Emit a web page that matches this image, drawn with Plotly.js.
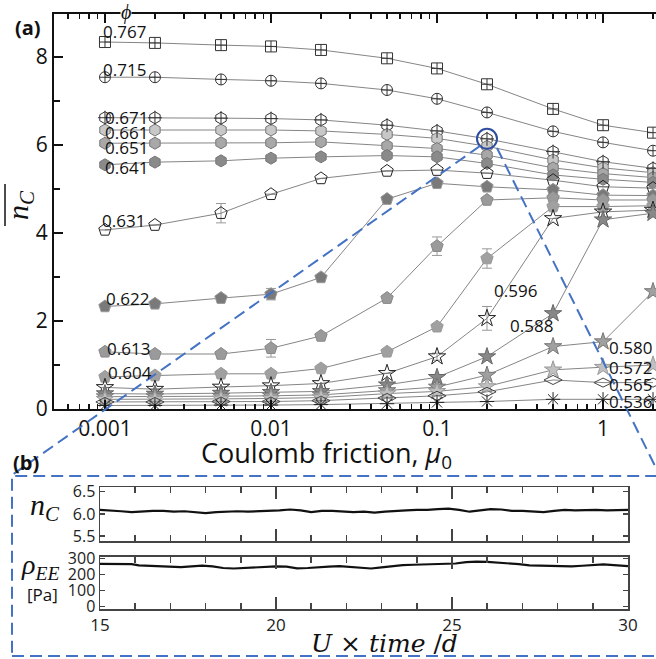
<!DOCTYPE html>
<html><head><meta charset="utf-8">
<script src="https://cdn.plot.ly/plotly-3.0.1.min.js"></script>
<style>html,body{margin:0;padding:0;overflow:hidden;background:#fff}#c{width:656px;height:659px}</style>
</head><body><div id="c"></div><script>
// ---------- data (panel a) ----------
const mu = [0.001, 0.002, 0.005, 0.01, 0.02, 0.05, 0.1, 0.2, 0.5, 1, 2];
const phiLabels = ['0.767','0.715','0.671','0.661','0.651','0.641','0.631','0.622','0.613','0.604','0.596','0.588','0.580','0.572','0.565','0.536'];
const n767 = [8.34, 8.32, 8.27, 8.24, 8.16, 7.97, 7.74, 7.38, 6.82, 6.45, 6.28];
const n715 = [7.54, 7.54, 7.49, 7.46, 7.40, 7.25, 7.05, 6.74, 6.31, 6.06, 5.87];
const n671 = [6.62, 6.62, 6.61, 6.60, 6.57, 6.45, 6.32, 6.14, 5.85, 5.62, 5.47];
const n661 = [6.34, 6.34, 6.34, 6.34, 6.32, 6.24, 6.15, 5.97, 5.66, 5.48, 5.37];
const n651 = [6.04, 6.04, 6.05, 6.05, 6.07, 5.98, 5.92, 5.77, 5.48, 5.35, 5.26];
const n641 = [5.55, 5.61, 5.64, 5.70, 5.73, 5.76, 5.73, 5.58, 5.32, 5.22, 5.15];
const n631 = [4.07, 4.18, 4.45, 4.88, 5.24, 5.41, 5.43, 5.36, 5.20, 5.05, 5.02];
const n622 = [2.33, 2.39, 2.52, 2.61, 2.99, 4.77, 5.13, 5.05, 4.98, 4.86, 4.85];
const n613 = [1.30, 1.25, 1.25, 1.38, 1.66, 2.52, 3.70, 4.75, 4.80, 4.75, 4.75];
const n604 = [0.73, 0.76, 0.80, 0.80, 0.92, 1.30, 1.87, 3.42, 4.60, 4.60, 4.62];
const n596 = [0.49, 0.45, 0.50, 0.53, 0.58, 0.81, 1.19, 2.06, 4.33, 4.48, 4.52];
const n588 = [0.35, 0.34, 0.36, 0.38, 0.40, 0.55, 0.72, 1.19, 2.17, 4.30, 4.45];
const n580 = [0.28, 0.28, 0.29, 0.30, 0.32, 0.42, 0.50, 0.77, 1.42, 1.53, 2.67];
const n572 = [0.22, 0.22, 0.23, 0.24, 0.26, 0.35, 0.40, 0.51, 0.89, 0.95, 1.00];
const n565 = [0.16, 0.16, 0.17, 0.17, 0.19, 0.25, 0.30, 0.39, 0.66, 0.60, 0.60];
const n536 = [0.08, 0.08, 0.09, 0.09, 0.10, 0.12, 0.15, 0.17, 0.22, 0.22, 0.22];
// error bars (symmetric)
const e631 = [0, 0, 0.22, 0, 0, 0, 0, 0, 0, 0, 0];
const e622 = [0, 0.05, 0, 0.13, 0, 0, 0, 0, 0, 0, 0];
const e613 = [0, 0, 0, 0.20, 0, 0, 0.21, 0, 0, 0, 0];
const e604 = [0, 0, 0, 0, 0, 0, 0, 0.22, 0, 0, 0];
const e596 = [0, 0, 0, 0, 0, 0, 0.08, 0.27, 0, 0, 0];
// highlighted point
const hiMu = [0.2];
const hiN = [n671[7]];

// ---------- data (panel b) ----------
const tNc = [15.0,15.3,15.6,15.9,16.2,16.5,16.8,17.1,17.4,17.7,18.0,18.3,18.6,18.9,19.2,19.5,19.8,20.1,20.4,20.7,21.0,21.3,21.6,21.9,22.2,22.5,22.8,23.1,23.4,23.7,24.0,24.3,24.6,24.9,25.2,25.5,25.8,26.1,26.4,26.7,27.0,27.3,27.6,27.9,28.2,28.5,28.8,29.1,29.4,29.7,30.0];
const nC = [6.09,6.08,6.06,6.04,6.06,6.07,6.07,6.05,6.06,6.04,6.02,6.04,6.05,6.06,6.05,6.06,6.06,6.08,6.10,6.08,6.04,6.07,6.07,6.05,6.04,6.05,6.03,6.05,6.07,6.08,6.09,6.09,6.11,6.12,6.09,6.05,6.08,6.11,6.10,6.07,6.07,6.05,6.04,6.07,6.09,6.08,6.09,6.09,6.08,6.09,6.09];
const tRho = [15.0,15.3,15.6,15.9,16.1,16.4,16.7,17.0,17.3,17.6,17.9,18.2,18.5,18.8,19.1,19.4,19.7,20.0,20.3,20.6,20.9,21.2,21.5,21.8,22.1,22.4,22.7,23.0,23.3,23.6,23.9,24.2,24.5,24.8,25.1,25.4,25.7,26.0,26.3,26.6,26.9,27.2,27.5,27.8,28.1,28.4,28.7,29.0,29.3,29.6,30.0];
const rhoEE = [265,266,266,264,256,254,252,250,246,250,255,250,240,237,240,244,248,250,248,238,240,246,248,251,246,240,237,244,252,258,260,262,264,266,268,276,280,278,274,272,264,256,254,250,248,250,254,258,262,258,252];

// ---------- helpers ----------
const W = 656, H = 659;
const px = x => x / W;
const py = y => 1 - y / H;
const SANS = 'Open Sans, Noto Sans, sans-serif';
const SERIF = 'Liberation Serif, DejaVu Serif, serif';

const seriesY = [n767,n715,n671,n661,n651,n641,n631,n622,n613,n604,n596,n588,n580,n572,n565,n536];
const seriesErr = [null,null,null,null,null,null,e631,e622,e613,e604,e596,null,null,null,null,null];
const styles = [
  {sym:'square-cross-open', fill:'#333', line:'#333', size:11},
  {sym:'circle-cross-open', fill:'#333', line:'#333', size:11},
  {sym:'hexagon-open', fill:'#333', line:'#333', size:12},
  {sym:'hexagon', fill:'#c8c8c8', line:'#777', size:12},
  {sym:'hexagon', fill:'#a8a8a8', line:'#777', size:12},
  {sym:'hexagon', fill:'#8a8a8a', line:'#777', size:12},
  {sym:'pentagon-open', fill:'#222', line:'#222', size:13},
  {sym:'pentagon', fill:'#7a7a7a', line:'#999', size:13},
  {sym:'pentagon', fill:'#9a9a9a', line:'#888', size:13},
  {sym:'pentagon', fill:'#a0a0a0', line:'#999', size:13},
  {sym:'star-open', fill:'#222', line:'#222', size:13},
  {sym:'star', fill:'#888', line:'#666', size:13},
  {sym:'star', fill:'#a0a0a0', line:'#777', size:13},
  {sym:'star', fill:'#c0c0c0', line:'#999', size:13},
  {sym:'diamond-wide-open', fill:'#444', line:'#444', size:13},
  {sym:'asterisk-open', fill:'#222', line:'#222', size:12}
];
const labelPos = [[124,32],[124,69],[126,117],[126,132],[126,148],[126,168],[123,220],[127,299],[128,348],[130,372],[515,291],[531,325],[630,347],[630,367],[630,384],[630,401]];

const traces = [];
seriesY.forEach((ys, i) => {
  const s = styles[i];
  const tr = {
    x: mu, y: ys, type: 'scatter', mode: 'lines+markers', xaxis: 'x', yaxis: 'y',
    line: {color: '#666', width: 0.8},
    marker: {symbol: s.sym, size: s.size, color: s.fill, line: {color: s.line, width: 1}},
    showlegend: false, cliponaxis: true, hoverinfo: 'skip'
  };
  if (seriesErr[i]) tr.error_y = {type: 'data', array: seriesErr[i], visible: true, color: '#999', thickness: 1, width: 5};
  traces.push(tr);
});
// cross inside the 0.671 hexagons
traces.push({x: mu, y: n671, type: 'scatter', mode: 'markers', xaxis: 'x', yaxis: 'y',
  marker: {symbol: 'cross-thin-open', size: 10, color: '#333', line: {color: '#333', width: 1}}, showlegend: false});
traces.push({x: hiMu, y: hiN, type: 'scatter', mode: 'markers', xaxis: 'x', yaxis: 'y',
  marker: {symbol: 'circle-open', size: 20, color: '#2F4EA0', line: {color: '#2F4EA0', width: 2}}, showlegend: false});
traces.push({x: tNc, y: nC, type: 'scatter', mode: 'lines', xaxis: 'x2', yaxis: 'y2', line: {color: '#111', width: 2.2}, showlegend: false});
traces.push({x: tRho, y: rhoEE, type: 'scatter', mode: 'lines', xaxis: 'x3', yaxis: 'y3', line: {color: '#111', width: 2.2}, showlegend: false});

const minorLog = [];
[0.0001, 0.001, 0.01, 0.1, 1].forEach(d => { for (let k = 2; k <= 9; k++) minorLog.push(+(k * d).toPrecision(3)); });

const ann = [];
phiLabels.forEach((t, i) => ann.push({text: t, xref: 'paper', yref: 'paper', x: px(labelPos[i][0]), y: py(labelPos[i][1]),
  xanchor: 'center', yanchor: 'middle', showarrow: false, font: {family: SANS, size: 17, color: '#111'}}));
ann.push({text: '<i>ϕ</i>', xref: 'paper', yref: 'paper', x: px(126), y: py(13), xanchor: 'center', yanchor: 'middle', showarrow: false,
  bgcolor: '#fff', borderpad: 0, font: {family: SERIF, size: 20, color: '#111'}});
ann.push({text: '<b>(a)</b>', xref: 'paper', yref: 'paper', x: px(28), y: py(28), xanchor: 'center', yanchor: 'middle', showarrow: false, font: {family: SANS, size: 20, color: '#111'}});
ann.push({text: '<b>(b)</b>', xref: 'paper', yref: 'paper', x: px(26), y: py(462), xanchor: 'center', yanchor: 'middle', showarrow: false, font: {family: SANS, size: 20, color: '#111'}});
ann.push({text: 'Coulomb friction, <i>μ</i><sub>0</sub>', xref: 'paper', yref: 'paper', x: px(326), y: py(454), xanchor: 'center', yanchor: 'middle', showarrow: false, font: {family: SANS, size: 27, color: '#111'}});
ann.push({text: '<i>n</i><sub><i>C</i></sub>', xref: 'paper', yref: 'paper', x: px(20), y: py(205), xanchor: 'center', yanchor: 'middle', textangle: -90, showarrow: false, font: {family: SERIF, size: 30, color: '#111'}});
ann.push({text: '<i>n</i><sub><i>C</i></sub>', xref: 'paper', yref: 'paper', x: px(45), y: py(507), xanchor: 'center', yanchor: 'middle', showarrow: false, font: {family: SERIF, size: 30, color: '#111'}});
ann.push({text: '<i>ρ</i><sub><i>EE</i></sub>', xref: 'paper', yref: 'paper', x: px(40), y: py(566), xanchor: 'center', yanchor: 'middle', showarrow: false, font: {family: SERIF, size: 28, color: '#111'}});
ann.push({text: '[Pa]', xref: 'paper', yref: 'paper', x: px(42), y: py(594), xanchor: 'center', yanchor: 'middle', showarrow: false, font: {family: SANS, size: 17, color: '#111'}});
ann.push({text: '<i>U</i> × <i>time</i> /<i>d</i>', xref: 'paper', yref: 'paper', x: px(384), y: py(643), xanchor: 'center', yanchor: 'middle', showarrow: false, font: {family: 'DejaVu Serif, serif', size: 25, color: '#111'}});

const BLUE = '#4472C4';
const shapes = [
  {type: 'line', xref: 'paper', yref: 'paper', x0: px(5), x1: px(5), y0: py(184), y1: py(226), line: {color: '#111', width: 1.5}},
  {type: 'rect', xref: 'paper', yref: 'paper', x0: px(12), x1: 1.1, y0: py(656), y1: py(476), line: {color: BLUE, width: 2, dash: '12px,6px'}},
  {type: 'line', xref: 'paper', yref: 'paper', x0: px(480), y0: py(146), x1: px(12), y1: py(475), line: {color: BLUE, width: 2, dash: '12px,6px'}},
  {type: 'line', xref: 'paper', yref: 'paper', x0: px(497), y0: py(148), x1: px(660), y1: py(476), line: {color: BLUE, width: 2, dash: '12px,6px'}}
];

const axB = {showgrid: false, zeroline: false, showline: true, linecolor: '#444', linewidth: 1.5, mirror: 'ticks', ticks: 'inside'};
const layout = {
  width: W, height: H, margin: {l: 0, r: 0, t: 0, b: 0}, paper_bgcolor: '#fff', plot_bgcolor: 'rgba(0,0,0,0)',
  showlegend: false,
  xaxis: {type: 'log', domain: [px(54), 1], range: [-3.307, 0.319], anchor: 'y',
    showgrid: false, zeroline: false, showline: true, linecolor: '#111', linewidth: 2, mirror: 'ticks',
    ticks: 'inside', ticklen: 9, tickwidth: 1.5, tickcolor: '#111',
    tickmode: 'array', tickvals: [0.001, 0.01, 0.1, 1], ticktext: ['0.001', '0.01', '0.1', '1'],
    tickfont: {family: SANS, size: 21, color: '#111'},
    minor: {tickmode: 'array', tickvals: minorLog, ticks: 'inside', ticklen: 5, tickwidth: 1.5, tickcolor: '#111'}},
  yaxis: {domain: [py(409), py(14)], range: [0, 8.977], anchor: 'x',
    showgrid: false, zeroline: false, showline: true, linecolor: '#111', linewidth: 2, mirror: false,
    ticks: 'inside', ticklen: 9, tickwidth: 1.5, tickcolor: '#111',
    tickmode: 'array', tickvals: [0, 2, 4, 6, 8], tickfont: {family: SANS, size: 21, color: '#111'},
    minor: {tickmode: 'array', tickvals: [1, 3, 5, 7], ticks: 'inside', ticklen: 6, tickwidth: 1.5, tickcolor: '#111'}},
  xaxis2: Object.assign({}, axB, {domain: [px(100), px(628)], range: [15, 30], anchor: 'y2', showticklabels: false,
    tickmode: 'array', tickvals: [15, 20, 25, 30], ticklen: 12, tickwidth: 1.5, tickcolor: '#444',
    minor: {dtick: 1, ticks: 'inside', ticklen: 6, tickwidth: 1.5, tickcolor: '#444'}}),
  yaxis2: Object.assign({}, axB, {domain: [py(541), py(487.3)], range: [5.39, 6.6], anchor: 'x2',
    tickmode: 'array', tickvals: [5.5, 6.0, 6.5], ticktext: ['5.5', '6.0', '6.5'], ticklen: 5, tickwidth: 1.5, tickcolor: '#444',
    tickfont: {family: SANS, size: 16, color: '#222'}}),
  xaxis3: Object.assign({}, axB, {domain: [px(100), px(628)], range: [15, 30], anchor: 'y3',
    tickmode: 'array', tickvals: [15, 20, 25, 30], ticklen: 12, tickwidth: 1.5, tickcolor: '#444',
    tickfont: {family: SANS, size: 17, color: '#222'},
    minor: {dtick: 1, ticks: 'inside', ticklen: 6, tickwidth: 1.5, tickcolor: '#444'}}),
  yaxis3: Object.assign({}, axB, {domain: [py(609), py(556.7)], range: [-14, 310], anchor: 'x3',
    tickmode: 'array', tickvals: [0, 100, 200, 300], ticklen: 5, tickwidth: 1.5, tickcolor: '#444',
    tickfont: {family: SANS, size: 16, color: '#222'}}),
  annotations: ann,
  shapes: shapes
};
Plotly.newPlot('c', traces, layout, {staticPlot: true, displayModeBar: false});
</script></body></html>
